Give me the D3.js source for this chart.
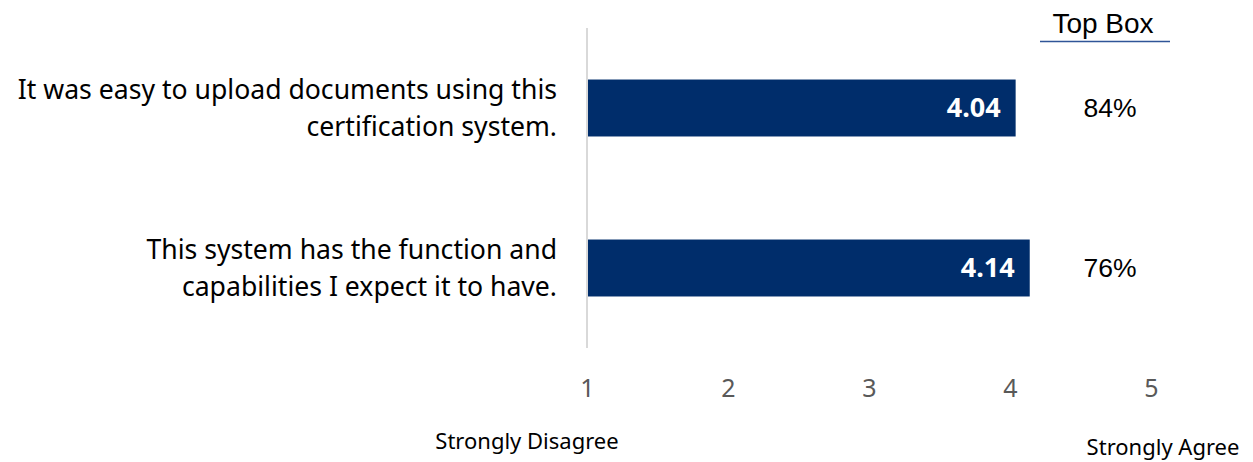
<!DOCTYPE html>
<html>
<head>
<meta charset="utf-8">
<script src="https://cdn.jsdelivr.net/npm/d3@7"></script>
<style>
  html, body { margin: 0; padding: 0; background: #fff; }
  svg { display: block; }
</style>
</head>
<body>
<svg id="chart" width="1253" height="462"></svg>
<script>
// Survey statements (each split into display lines), mean scores and top-box shares
const statements = [
  ["It was easy to upload documents using this", "certification system."],
  ["This system has the function and", "capabilities I expect it to have."]
];
const meanScores = [4.04, 4.14];
const topBox = ["84%", "76%"];
const scaleTicks = [1, 2, 3, 4, 5];
const scaleEnds = ["Strongly Disagree", "Strongly Agree"];

const svg = d3.select("#chart");
const labelFont = "'Noto Sans', 'DejaVu Sans', sans-serif";
const arialFont = "'Liberation Sans', Arial, sans-serif";

const x = d3.scaleLinear().domain([1, 5]).range([587, 1151]);
const y = d3.scaleBand()
  .domain(d3.range(statements.length))
  .range([28, 348])
  .paddingInner(0.644)
  .paddingOuter(0.322);

// Baseline of the scale
svg.append("line")
  .attr("x1", x(1)).attr("x2", x(1))
  .attr("y1", 28).attr("y2", 348)
  .attr("stroke", "#d9d9d9").attr("stroke-width", 2);

// Bars
svg.selectAll("rect.bar").data(meanScores).join("rect")
  .attr("class", "bar")
  .attr("x", x(1) + 1)
  .attr("y", (d, i) => y(i))
  .attr("width", d => x(d) - x(1) - 1)
  .attr("height", y.bandwidth())
  .attr("fill", "#002d6b");

// Value labels inside bars
svg.selectAll("text.val").data(meanScores).join("text")
  .attr("class", "val")
  .attr("x", d => x(d) - 15)
  .attr("y", (d, i) => y(i) + y.bandwidth() / 2)
  .attr("dy", "0.35em")
  .attr("text-anchor", "end")
  .attr("font-family", labelFont)
  .attr("font-weight", "bold")
  .attr("font-size", 27)
  .attr("fill", "#fff")
  .text(d => d.toFixed(2));

// Statement labels
const cat = svg.selectAll("text.cat").data(statements).join("text")
  .attr("class", "cat")
  .attr("text-anchor", "end")
  .attr("font-family", labelFont)
  .attr("font-size", 26.6)
  .attr("fill", "#000");
cat.each(function(lines, i) {
  const t = d3.select(this);
  const cy = y(i) + y.bandwidth() / 2;
  lines.forEach((ln, k) => {
    t.append("tspan")
      .attr("x", 557)
      .attr("y", cy + (k - (lines.length - 1) / 2) * 37)
      .attr("dy", "0.35em")
      .text(ln);
  });
});

// Top box column
svg.append("text")
  .attr("x", 1103).attr("y", 33)
  .attr("text-anchor", "middle")
  .attr("font-family", arialFont)
  .attr("font-size", 28)
  .attr("fill", "#000")
  .text("Top Box");
svg.append("line")
  .attr("x1", 1040).attr("x2", 1170)
  .attr("y1", 41.5).attr("y2", 41.5)
  .attr("stroke", "#2f5597").attr("stroke-width", 1.5);

svg.selectAll("text.tb").data(topBox).join("text")
  .attr("class", "tb")
  .attr("x", 1110)
  .attr("y", (d, i) => y(i) + y.bandwidth() / 2)
  .attr("dy", "0.35em")
  .attr("text-anchor", "middle")
  .attr("font-family", arialFont)
  .attr("font-size", 26.5)
  .attr("fill", "#000")
  .text(d => d);

// Scale ticks
const axis = d3.axisBottom(x).tickValues(scaleTicks).tickSize(0).tickPadding(0).tickFormat(d3.format("d"));
const ax = svg.append("g").attr("transform", "translate(0,379)").call(axis);
ax.select(".domain").remove();
ax.selectAll("text")
  .attr("dy", "0.71em")
  .attr("font-family", labelFont)
  .attr("font-size", 25)
  .attr("fill", "#595959");

// Scale end labels
svg.append("text")
  .attr("x", 527).attr("y", 449)
  .attr("text-anchor", "middle")
  .attr("font-family", labelFont)
  .attr("font-size", 22)
  .attr("fill", "#000")
  .text(scaleEnds[0]);
svg.append("text")
  .attr("x", 1163).attr("y", 455)
  .attr("text-anchor", "middle")
  .attr("font-family", labelFont)
  .attr("font-size", 22)
  .attr("fill", "#000")
  .text(scaleEnds[1]);
</script>
</body>
</html>
